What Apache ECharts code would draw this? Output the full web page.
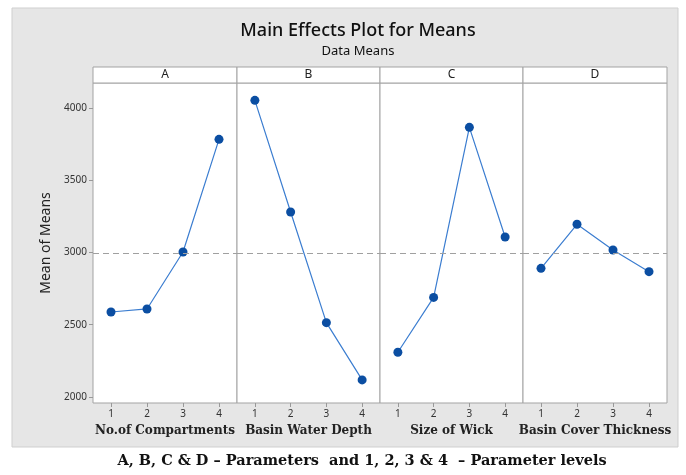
<!DOCTYPE html>
<html>
<head>
<meta charset="utf-8">
<script src="https://cdn.jsdelivr.net/npm/echarts@6/dist/echarts.min.js"></script>
<style>html,body{margin:0;padding:0;background:#fff}#c{width:686px;height:475px}</style>
</head>
<body>
<div id="c"></div>
<script>
// ---- data ----
const levels = ['1', '2', '3', '4'];
const panelLetters = ['A', 'B', 'C', 'D'];
const factorNames = ['No.of Compartments', 'Basin Water Depth', 'Size of Wick', 'Basin Cover Thickness'];
const meansA = [2588, 2609, 3003, 3783];
const meansB = [4053, 3280, 2514, 2118];
const meansC = [2309, 2689, 3866, 3107];
const meansD = [2890, 3195, 3017, 2867];
const yTicks = [2000, 2500, 3000, 3500, 4000];
const allMeans = [meansA, meansB, meansC, meansD];

// ---- layout ----
const panelLeft = [93, 237, 380, 523];
const panelW = [144, 143, 143, 144];
const plotTop = 83, plotH = 320, stripTop = 67, stripH = 16;
const grand = allMeans.flat().reduce((a, b) => a + b, 0) / allMeans.flat().length;

const grids = [], xAxes = [], yAxes = [], series = [], graphics = [];
graphics.push({type: 'rect', shape: {x: 12, y: 8, width: 666, height: 439},
  style: {fill: '#e6e6e6', stroke: '#cfcfcf', lineWidth: 1}, z: -10});

for (let i = 0; i < 4; i++) {
  grids.push({left: panelLeft[i], top: plotTop, width: panelW[i], height: plotH,
    show: true, backgroundColor: '#ffffff', borderColor: '#a3a3a3', borderWidth: 1});
  xAxes.push({type: 'category', gridIndex: i, data: levels, boundaryGap: true,
    axisLine: {show: false},
    axisTick: {show: true, alignWithLabel: true, length: 4, lineStyle: {color: '#999'}},
    axisLabel: {color: '#333', fontSize: 10, fontFamily: 'Noto Sans', margin: 6},
    name: factorNames[i], nameLocation: 'middle', nameGap: 22,
    nameTextStyle: {fontFamily: 'DejaVu Serif', fontWeight: 'bold', fontSize: 12, color: '#222'}});
  yAxes.push({type: 'value', gridIndex: i, min: 1958, max: 4173,
    splitLine: {show: false},
    axisLine: {show: false},
    axisTick: {show: i === 0, length: 4, lineStyle: {color: '#999'}, customValues: yTicks},
    axisLabel: {show: i === 0, color: '#333', fontSize: 10, fontFamily: 'Noto Sans', margin: 6,
      customValues: yTicks, formatter: v => String(v)},
    name: i === 0 ? 'Mean of Means' : '', nameLocation: 'middle', nameGap: 40,
    nameTextStyle: {fontFamily: 'Noto Sans', fontSize: 14, color: '#222'}});
  series.push({type: 'line', xAxisIndex: i, yAxisIndex: i, data: allMeans[i],
    symbol: 'circle', symbolSize: 9, showSymbol: true,
    itemStyle: {color: '#0b4ea2'}, lineStyle: {color: '#3b7dd0', width: 1.2},
    markLine: {silent: true, symbol: 'none', label: {show: false},
      lineStyle: {color: '#a0a0a0', type: [6, 4], width: 1.2},
      data: [{yAxis: grand}]}, z: 3});
  graphics.push({type: 'rect', shape: {x: panelLeft[i], y: stripTop, width: panelW[i], height: stripH},
    style: {fill: '#ffffff', stroke: '#a3a3a3', lineWidth: 1}});
  graphics.push({type: 'text', x: panelLeft[i] + panelW[i] / 2, y: stripTop + stripH / 2,
    style: {text: panelLetters[i], fill: '#222', font: '12px "Noto Sans"', align: 'center', verticalAlign: 'middle'}});
}
graphics.push({type: 'text', x: 362, y: 461,
  style: {text: 'A, B, C & D – Parameters  and 1, 2, 3 & 4  – Parameter levels', fill: '#111',
    font: 'bold 14.5px "DejaVu Serif"', align: 'center', verticalAlign: 'middle'}});

const chart = echarts.init(document.getElementById('c'), null, {renderer: 'canvas'});
chart.setOption({
  backgroundColor: '#ffffff',
  animation: false,
  title: {text: 'Main Effects Plot for Means', subtext: 'Data Means', left: 353, top: 17, textAlign: 'center',
    itemGap: 5,
    textStyle: {fontFamily: 'Noto Sans', fontSize: 18, fontWeight: 500, color: '#111'},
    subtextStyle: {fontFamily: 'Noto Sans', fontSize: 13, color: '#111'}},
  grid: grids, xAxis: xAxes, yAxis: yAxes, series: series, graphic: graphics
});
</script>
</body>
</html>
